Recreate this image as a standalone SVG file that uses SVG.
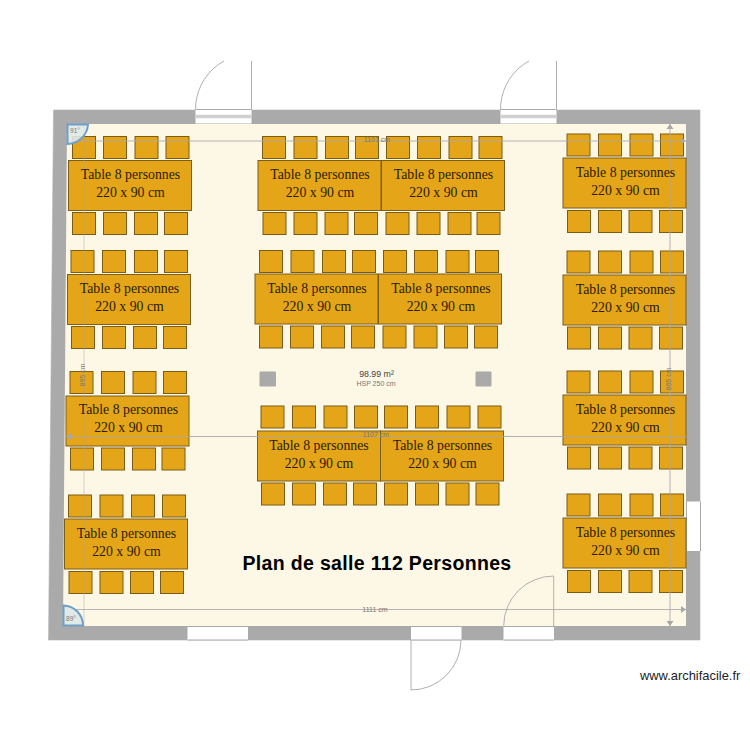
<svg xmlns="http://www.w3.org/2000/svg" width="750" height="750" viewBox="0 0 750 750">
<style>
.wall{fill:#aaaaaa;stroke:#b4b4b4;stroke-width:.6}
.floor{fill:#fdf7e6}
.op{fill:#fff}
.ln{fill:none;stroke:#aaaaaa;stroke-width:1}
.sw{fill:none;stroke:#b0b0b0;stroke-width:1}
.tb{fill:#e5a518;stroke:#7a5e1c;stroke-width:1}
.ch{fill:#e5a518;stroke:#7a5c16;stroke-width:1}
.tt{font-family:"Liberation Serif","Times New Roman",serif;font-size:13.8px;fill:#2a1c05;text-anchor:middle}
.dim{font-family:"Liberation Sans",Arial,sans-serif;font-size:7px;fill:#777;text-anchor:middle}
.col{fill:#aaaaaa}
.dl{stroke:#a8a8a8;stroke-width:1;fill:none;opacity:.85}
.dv{stroke:#a8a8a8;stroke-width:1;fill:none;opacity:.5}
.ah{fill:#a8a8a8}
.ang{fill:#dfe9e6;stroke:#6f9fc8;stroke-width:2}
</style>
<defs>
<rect id="c" class="ch" width="23" height="22"/>
<rect id="t" class="tb" width="123" height="50"/>
</defs>
<g id="room">
<path class="wall" d="M53.500 110H700V640H48.500Z"/>
<path class="floor" d="M67 124H686V626H63Z"/>
</g>
<g id="openings">
<rect class="op" x="195.500" y="109.500" width="56" height="14"/>
<rect class="op" x="500.500" y="109.500" width="56" height="14"/>
<rect class="op" x="187.500" y="626.500" width="60.500" height="13.500"/>
<rect class="op" x="411" y="626.500" width="50.500" height="13.500"/>
<rect class="op" x="503.500" y="626" width="50.500" height="14"/>
<rect class="op" x="686.500" y="501.500" width="14" height="49.500"/>
<path class="ln" d="M195.500 109.500H251.500M500.500 109.500H556.500"/>
<path d="M195.500 116.500H251.500M500.500 116.500H556.500" fill="none" stroke="#d0d0d0" stroke-width="3.500"/>
<path class="ln" d="M187.500 626.500H248M411 626.500H461.500M503.500 626.500H554M686.500 501.500V551M187.500 640H248M411 640H461.500M503.500 640H554M700.500 501.500V551"/>
</g>
<g id="doors">
<path class="sw" d="M251.500 61V110M195.700 110V105A55 55 0 0 1 224 61"/>
<path class="sw" d="M556.500 61V110M500.700 110V105A55 55 0 0 1 529 61"/>
<path class="sw" d="M411 640V690A50 50 0 0 0 461 640"/>
<path class="sw" d="M553.700 626V576A50 50 0 0 0 503.700 626"/>
</g>
<g id="columns">
<rect class="col" x="259.500" y="371.500" width="16.500" height="15" rx="1"/>
<rect class="col" x="475.500" y="371.500" width="16" height="15" rx="1"/>
</g>
<g id="chairs">
<use href="#c" x="72.500" y="136.500"/><use href="#c" x="103.500" y="136.500"/><use href="#c" x="135" y="136.500"/><use href="#c" x="166" y="136.500"/>
<use href="#c" x="72.500" y="212.500"/><use href="#c" x="103.500" y="212.500"/><use href="#c" x="134.500" y="212.500"/><use href="#c" x="164.500" y="212.500"/>
<use href="#c" x="71" y="250.500"/><use href="#c" x="102.500" y="250.500"/><use href="#c" x="134.500" y="250.500"/><use href="#c" x="164.500" y="250.500"/>
<use href="#c" x="71.500" y="326.500"/><use href="#c" x="102.500" y="326.500"/><use href="#c" x="133.500" y="326.500"/><use href="#c" x="163.500" y="326.500"/>
<use href="#c" x="70" y="371.500"/><use href="#c" x="101.500" y="371.500"/><use href="#c" x="133" y="371.500"/><use href="#c" x="163.500" y="371.500"/>
<use href="#c" x="70.500" y="448"/><use href="#c" x="101.500" y="448"/><use href="#c" x="132.500" y="448"/><use href="#c" x="162" y="448"/>
<use href="#c" x="68.500" y="495"/><use href="#c" x="100" y="495"/><use href="#c" x="131.500" y="495"/><use href="#c" x="162.500" y="495"/>
<use href="#c" x="69" y="571.500"/><use href="#c" x="100" y="571.500"/><use href="#c" x="130.500" y="571.500"/><use href="#c" x="160.500" y="571.500"/>
<use href="#c" x="262.500" y="136.500"/><use href="#c" x="294" y="136.500"/><use href="#c" x="325.500" y="136.500"/><use href="#c" x="355.500" y="136.500"/><use href="#c" x="386.500" y="136.500"/><use href="#c" x="417.500" y="136.500"/><use href="#c" x="449" y="136.500"/><use href="#c" x="479" y="136.500"/>
<use href="#c" x="263" y="212.500"/><use href="#c" x="294" y="212.500"/><use href="#c" x="325" y="212.500"/><use href="#c" x="354.500" y="212.500"/><use href="#c" x="386" y="212.500"/><use href="#c" x="417" y="212.500"/><use href="#c" x="448" y="212.500"/><use href="#c" x="477" y="212.500"/>
<use href="#c" x="259.500" y="250.500"/><use href="#c" x="291" y="250.500"/><use href="#c" x="322.500" y="250.500"/><use href="#c" x="352.500" y="250.500"/><use href="#c" x="383.500" y="250.500"/><use href="#c" x="414.500" y="250.500"/><use href="#c" x="446" y="250.500"/><use href="#c" x="475.500" y="250.500"/>
<use href="#c" x="259.500" y="326"/><use href="#c" x="290.500" y="326"/><use href="#c" x="321.500" y="326"/><use href="#c" x="351.500" y="326"/><use href="#c" x="383" y="326"/><use href="#c" x="414" y="326"/><use href="#c" x="444.500" y="326"/><use href="#c" x="474.500" y="326"/>
<use href="#c" x="261" y="406"/><use href="#c" x="292.500" y="406"/><use href="#c" x="324" y="406"/><use href="#c" x="354.500" y="406"/><use href="#c" x="384.500" y="406"/><use href="#c" x="415.500" y="406"/><use href="#c" x="447" y="406"/><use href="#c" x="478" y="406"/>
<use href="#c" x="261.500" y="483"/><use href="#c" x="292.500" y="483"/><use href="#c" x="323.500" y="483"/><use href="#c" x="353.500" y="483"/><use href="#c" x="384.500" y="483"/><use href="#c" x="415.500" y="483"/><use href="#c" x="446" y="483"/><use href="#c" x="476" y="483"/>
<use href="#c" x="567" y="134"/><use href="#c" x="598.500" y="134"/><use href="#c" x="630" y="134"/><use href="#c" x="660.500" y="134"/>
<use href="#c" x="567.500" y="210.500"/><use href="#c" x="598.500" y="210.500"/><use href="#c" x="629" y="210.500"/><use href="#c" x="659.500" y="210.500"/>
<use href="#c" x="567" y="251"/><use href="#c" x="598.500" y="251"/><use href="#c" x="630" y="251"/><use href="#c" x="660.500" y="251"/>
<use href="#c" x="567.500" y="327"/><use href="#c" x="598.500" y="327"/><use href="#c" x="629" y="327"/><use href="#c" x="659.500" y="327"/>
<use href="#c" x="567" y="371"/><use href="#c" x="598.500" y="371"/><use href="#c" x="630" y="371"/><use href="#c" x="660.500" y="371"/>
<use href="#c" x="567.500" y="447"/><use href="#c" x="598.500" y="447"/><use href="#c" x="629" y="447"/><use href="#c" x="659.500" y="447"/>
<use href="#c" x="567" y="494"/><use href="#c" x="598.500" y="494"/><use href="#c" x="630" y="494"/><use href="#c" x="660.500" y="494"/>
<use href="#c" x="567.500" y="570.500"/><use href="#c" x="598.500" y="570.500"/><use href="#c" x="629" y="570.500"/><use href="#c" x="659.500" y="570.500"/>
</g>
<g id="table-l1"><use href="#t" x="68.500" y="160.500"/></g>
<g id="table-l2"><use href="#t" x="67.500" y="274.500"/></g>
<g id="table-l3"><use href="#t" x="66" y="396"/></g>
<g id="table-l4"><use href="#t" x="64.500" y="519"/></g>
<g id="table-c1"><use href="#t" x="258" y="160.500"/></g>
<g id="table-c2"><use href="#t" x="381.500" y="160.500"/></g>
<g id="table-c3"><use href="#t" x="255" y="274"/></g>
<g id="table-c4"><use href="#t" x="378.500" y="274"/></g>
<g id="table-c5"><use href="#t" x="257.500" y="431"/></g>
<g id="table-c6"><use href="#t" x="380.500" y="431"/></g>
<g id="table-r1"><use href="#t" x="563" y="158"/></g>
<g id="table-r2"><use href="#t" x="563" y="275"/></g>
<g id="table-r3"><use href="#t" x="563" y="395"/></g>
<g id="table-r4"><use href="#t" x="563" y="518"/></g>
<g id="connectors">
<path class="dl" d="M68 141H686"/>
<path class="dv" d="M84 124V626"/>
<path class="dl" d="M64 609.500H686"/>
<path class="dl" d="M670 124V626"/>
<path class="dl" d="M66 436.500H686"/>
<path class="ah" d="M670 124l-3.500 5h7ZM670 626l-3.500-5h7ZM686 141l-5-3.500v7ZM686 609.500l-5-3.500v7ZM66 436.500l5-3.500v7Z"/>
</g>
<g id="table-labels">
<text class="tt" x="130.500" y="179">Table 8 personnes</text><text class="tt" x="130.500" y="197">220 x 90 cm</text>
<text class="tt" x="129.500" y="293">Table 8 personnes</text><text class="tt" x="129.500" y="311">220 x 90 cm</text>
<text class="tt" x="128.500" y="414">Table 8 personnes</text><text class="tt" x="128.500" y="432">220 x 90 cm</text>
<text class="tt" x="126.500" y="538">Table 8 personnes</text><text class="tt" x="126.500" y="556">220 x 90 cm</text>
<text class="tt" x="320" y="179">Table 8 personnes</text><text class="tt" x="320" y="197">220 x 90 cm</text>
<text class="tt" x="443.500" y="179">Table 8 personnes</text><text class="tt" x="443.500" y="197">220 x 90 cm</text>
<text class="tt" x="317" y="293">Table 8 personnes</text><text class="tt" x="317" y="311">220 x 90 cm</text>
<text class="tt" x="441" y="293">Table 8 personnes</text><text class="tt" x="441" y="311">220 x 90 cm</text>
<text class="tt" x="319" y="450">Table 8 personnes</text><text class="tt" x="319" y="468">220 x 90 cm</text>
<text class="tt" x="442.500" y="450">Table 8 personnes</text><text class="tt" x="442.500" y="468">220 x 90 cm</text>
<text class="tt" x="625.500" y="177">Table 8 personnes</text><text class="tt" x="625.500" y="195">220 x 90 cm</text>
<text class="tt" x="625.500" y="294">Table 8 personnes</text><text class="tt" x="625.500" y="312">220 x 90 cm</text>
<text class="tt" x="625.500" y="413.500">Table 8 personnes</text><text class="tt" x="625.500" y="431.500">220 x 90 cm</text>
<text class="tt" x="625.500" y="537">Table 8 personnes</text><text class="tt" x="625.500" y="555">220 x 90 cm</text>
</g>
<g id="angles">
<path class="ang" d="M67.500 124.500H88A21 21 0 0 1 67.500 144Z" fill-opacity=".9"/>
<path class="ang" d="M63.500 605.500A20 20 0 0 1 83 625.500H63.500Z"/>
<text class="dim" x="75" y="133" style="font-size:6.500px">91°</text>
<text class="dim" x="71" y="621" style="font-size:6.500px">89°</text>
</g>
<g id="labels">
<text class="dim" x="377" y="142">1101 cm</text>
<text class="dim" x="376" y="436.500">1107 cm</text>
<text class="dim" x="375" y="612">1111 cm</text>
<text class="dim" transform="translate(84.500 375) rotate(-90)">895 cm</text>
<text class="dim" transform="translate(670.500 379) rotate(-90)">865 cm</text>
<text x="376.500" y="377" text-anchor="middle" style="font-family:'Liberation Sans',Arial,sans-serif;font-size:8.800px;fill:#444">98.99 m²</text>
<text class="dim" x="376" y="386">HSP 250 cm</text>
<text x="377" y="570" text-anchor="middle" style="font-family:'Liberation Sans',Arial,sans-serif;font-weight:bold;font-size:19.500px;letter-spacing:.33px;fill:#000">Plan de salle 112 Personnes</text>
<text x="640" y="680" style="font-family:'Liberation Sans',Arial,sans-serif;font-size:12.900px;fill:#222">www.archifacile.fr</text>
</g>
</svg>
